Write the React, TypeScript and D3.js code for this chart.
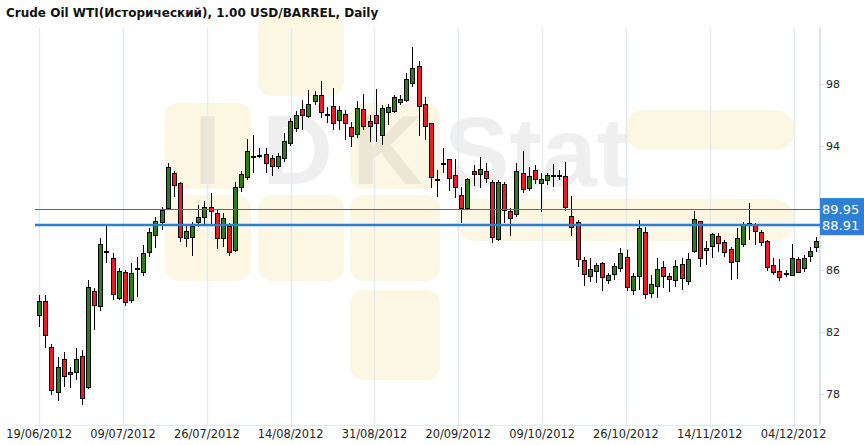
import React from "react";
import * as d3 from "d3";

const title = "Crude Oil WTI(Исторический), 1.00 USD/BARREL, Daily";
const dateLabels = ["19/06/2012", "09/07/2012", "26/07/2012", "14/08/2012", "31/08/2012", "20/09/2012", "09/10/2012", "26/10/2012", "14/11/2012", "04/12/2012"];
const dateLabelIndex = [0, 13.7, 27.4, 41.1, 54.8, 68.5, 82.2, 95.9, 109.6, 123.3];
const yTicks = [78, 82, 86, 94, 98];
const priceLines = [89.95, 88.91];

const opens = [
  83.10, 84.04, 81.07, 78.13, 80.26, 79.29, 79.46, 80.49, 78.49, 84.65,
  83.70, 87.25, 86.77, 84.19, 85.87, 84.08, 86.17, 85.87, 87.16, 88.26,
  89.14, 90.04, 92.26, 91.61, 88.06, 88.17, 89.10, 89.42, 90.10, 89.68,
  88.06, 88.88, 87.31, 91.35, 92.04, 93.39, 93.40, 93.48, 93.26, 92.73,
  93.23, 94.23, 95.20, 96.39, 95.97, 96.94, 97.31, 96.10, 96.62, 95.70,
  96.06, 95.26, 94.79, 96.41, 95.63, 96.02, 94.73, 96.23, 96.30, 96.84,
  97.00, 98.06, 99.18, 96.73, 95.48, 91.87, 92.94, 93.18, 92.15, 90.86,
  90.04, 92.41, 92.21, 92.43, 91.68, 88.00, 91.57, 89.85, 89.61, 92.26,
  91.29, 92.47, 91.61, 91.83, 92.15, 92.15, 92.08, 89.52, 89.14, 86.66,
  85.65, 85.97, 86.45, 85.37, 85.74, 86.13, 86.88, 84.73, 85.65, 88.49,
  84.52, 85.01, 86.19, 85.63, 85.37, 86.41, 85.31, 87.25, 89.18, 87.31,
  87.57, 88.21, 87.81, 87.35, 86.60, 87.68, 88.97, 88.97, 88.49, 87.89,
  86.34, 85.97, 85.81, 85.70, 86.73, 86.13, 86.94, 87.48,
];
const highs = [
  84.43, 84.43, 81.23, 80.43, 80.75, 79.74, 80.97, 80.86, 85.37, 84.88,
  88.06, 88.86, 87.10, 86.13, 86.02, 86.45, 86.88, 87.63, 88.71, 89.46,
  90.10, 92.94, 92.43, 91.70, 88.92, 89.14, 90.21, 90.49, 90.97, 89.94,
  89.68, 89.03, 91.72, 92.43, 94.45, 94.73, 93.89, 93.87, 93.44, 93.55,
  94.88, 95.81, 96.30, 97.00, 97.63, 97.59, 98.23, 96.55, 97.74, 96.60,
  96.34, 95.59, 96.92, 97.37, 96.02, 97.70, 96.66, 96.73, 97.31, 97.31,
  98.71, 100.43, 99.50, 97.20, 95.50, 92.47, 93.87, 93.18, 93.18, 91.39,
  91.95, 92.79, 93.33, 92.94, 91.83, 91.83, 91.72, 90.00, 92.94, 93.72,
  92.65, 92.79, 92.26, 92.26, 92.86, 92.50, 93.01, 90.79, 89.25, 86.88,
  86.77, 86.45, 86.55, 85.81, 86.45, 87.42, 87.31, 85.81, 89.25, 88.81,
  85.70, 86.77, 86.60, 85.85, 86.66, 86.77, 87.10, 89.83, 89.18, 87.91,
  88.43, 88.39, 87.95, 87.52, 88.71, 89.14, 90.36, 89.03, 88.60, 87.95,
  86.77, 86.73, 86.00, 87.70, 86.88, 86.99, 87.52, 88.17,
];
const lows = [
  82.36, 80.97, 77.95, 77.59, 78.49, 78.39, 78.92, 77.31, 78.32, 82.15,
  83.37, 86.45, 84.08, 84.08, 83.70, 83.89, 84.30, 85.63, 86.84, 87.42,
  88.60, 89.89, 90.75, 87.85, 87.48, 86.92, 88.81, 88.86, 88.92, 87.37,
  87.52, 86.92, 87.20, 91.07, 91.83, 92.26, 93.25, 92.26, 92.08, 92.52,
  93.01, 94.02, 94.94, 95.05, 95.81, 96.66, 95.81, 95.48, 95.05, 95.05,
  94.41, 93.97, 94.52, 95.05, 94.30, 94.30, 94.08, 95.37, 96.13, 96.66,
  96.88, 97.85, 94.66, 94.41, 91.29, 90.71, 92.26, 91.12, 90.65, 89.03,
  89.98, 91.44, 91.29, 91.65, 87.74, 87.90, 89.03, 88.21, 89.46, 91.01,
  91.10, 91.60, 89.78, 91.50, 91.39, 91.80, 89.85, 88.21, 86.19, 84.99,
  85.26, 85.16, 84.68, 85.12, 85.37, 85.91, 84.68, 84.41, 84.73, 84.13,
  84.19, 84.19, 84.84, 84.62, 84.94, 84.73, 85.05, 87.10, 86.19, 86.34,
  86.77, 87.20, 86.88, 85.37, 85.42, 87.48, 87.95, 87.63, 87.57, 85.95,
  85.70, 85.33, 85.55, 85.63, 85.81, 85.91, 86.55, 87.20,
];
const closes = [
  84.04, 81.81, 78.28, 79.78, 79.20, 79.42, 80.26, 77.74, 84.94, 83.76,
  87.68, 87.22, 84.45, 85.97, 83.97, 85.81, 86.14, 87.10, 88.45, 89.20,
  89.89, 92.65, 91.50, 88.13, 88.54, 88.86, 89.42, 90.10, 89.83, 88.06,
  89.39, 87.20, 91.39, 92.21, 93.70, 93.36, 93.43, 92.90, 92.75, 93.39,
  94.34, 95.63, 96.02, 96.02, 96.71, 97.31, 96.23, 96.06, 95.48, 96.34,
  95.48, 94.66, 96.45, 95.31, 95.33, 95.52, 96.45, 96.52, 97.16, 97.05,
  98.32, 99.03, 96.62, 95.30, 92.00, 91.84, 92.91, 91.94, 91.35, 90.00,
  91.89, 92.19, 92.52, 91.94, 88.13, 91.72, 89.89, 89.35, 92.41, 91.23,
  92.08, 91.87, 91.87, 92.15, 92.12, 92.12, 90.06, 88.77, 86.71, 85.74,
  86.06, 86.32, 85.55, 85.70, 86.28, 87.10, 84.90, 85.63, 88.75, 84.45,
  85.10, 86.06, 85.63, 85.42, 86.30, 85.48, 86.71, 89.29, 86.77, 87.42,
  88.32, 87.78, 87.16, 86.52, 88.06, 88.97, 89.03, 88.54, 87.85, 86.23,
  85.91, 85.55, 85.78, 86.77, 85.91, 86.77, 87.25, 87.91,
];

const W = 864;
const H = 445;
const plotTop = 28;
const plotBottom = 425;
const plotLeft = 35;
const plotRight = 820;
const green = "#2b7d16";
const red = "#ec1c24";
const gridColor = "#e1ebf4";
const font = "'DejaVu Sans', Verdana, sans-serif";

export default function App() {
  const x = d3.scaleLinear().domain([0, opens.length - 1]).range([39.2, 816.2]);
  const y = d3.scaleLinear().domain([78, 98]).range([394.3, 84.3]);
  const crisp = (v: number) => Math.round(v) + 0.5;

  return (
    <svg
      width={W}
      height={H}
      viewBox={`0 0 ${W} ${H}`}
      style={{ position: "absolute", left: 0, top: 0, background: "#fff" }}
    >
      <rect x={0} y={0} width={W} height={H} fill="#fff" />

      {/* watermark */}
      <g>
        <g fill="#fbf0c8" opacity={0.5}>
          <rect x={258} y={14} width={86} height={82} rx={14} />
          <rect x={165} y={103} width={86} height={86} rx={14} />
          <rect x={350} y={103} width={90} height={86} rx={14} />
          <rect x={165} y={195} width={86} height={86} rx={14} />
          <rect x={258} y={195} width={86} height={86} rx={14} />
          <rect x={350} y={195} width={90} height={86} rx={14} />
          <rect x={350} y={290} width={90} height={90} rx={14} />
          <rect x={455} y={199} width={340} height={42} rx={21} />
          <rect x={625} y={110} width={170} height={40} rx={20} />
        </g>
        <g fill="#000" opacity={0.06} fontFamily="'Liberation Sans', Arial, sans-serif" fontWeight="bold" fontSize={98}>
          <text x={194} y={184}>I</text>
          <text x={262} y={184}>D</text>
          <text x={352} y={184}>K</text>
          <text x={444} y={186}>Stat</text>
        </g>
      </g>

      {/* vertical grid lines */}
      {dateLabelIndex.map((d, k) => (
        <line
          key={"g" + k}
          x1={crisp(x(d))}
          x2={crisp(x(d))}
          y1={plotTop}
          y2={plotBottom + 2}
          stroke={gridColor}
          strokeWidth={1.5}
        />
      ))}
      {/* bottom and right axis */}
      <line x1={plotLeft} x2={plotRight} y1={plotBottom + 0.5} y2={plotBottom + 0.5} stroke={gridColor} strokeWidth={1} />
      <line x1={plotRight} x2={plotRight} y1={plotTop} y2={plotBottom} stroke="#d6e4f0" strokeWidth={2} />

      {/* y ticks */}
      {yTicks.map((t) => (
        <g key={"y" + t}>
          <line x1={plotRight} x2={plotRight + 3.5} y1={crisp(y(t))} y2={crisp(y(t))} stroke="#c9dbe9" strokeWidth={1} />
          <text x={826} y={y(t) + 4} fontFamily={font} fontSize={11} fill="#222">
            {t}
          </text>
        </g>
      ))}

      {/* x labels */}
      {dateLabels.map((lab, k) => (
        <text
          key={"x" + k}
          x={x(dateLabelIndex[k])}
          y={438}
          textAnchor="middle"
          fontFamily={font}
          fontSize={11.4}
          fill="#222"
        >
          {lab}
        </text>
      ))}

      {/* candles */}
      {opens.map((o, i) => {
        const c = closes[i];
        const cx = Math.round(x(i));
        const up = c >= o;
        const top = Math.round(y(Math.max(o, c))) + 0.5;
        const bot = Math.round(y(Math.min(o, c))) + 0.5;
        const h = Math.max(1, bot - top);
        return (
          <g key={"c" + i}>
            <line
              x1={cx + 0.5}
              x2={cx + 0.5}
              y1={Math.round(y(highs[i]))}
              y2={Math.round(y(lows[i]))}
              stroke="#000"
              strokeWidth={1}
            />
            <rect x={cx - 1.5} y={top} width={4} height={h} fill={up ? green : red} stroke="#000" strokeWidth={1} />
          </g>
        );
      })}

      {/* price lines */}
      <line x1={plotLeft} x2={plotRight} y1={crisp(y(priceLines[0]))} y2={crisp(y(priceLines[0]))} stroke="#3f6f9f" strokeWidth={1} />
      <line x1={plotLeft} x2={plotRight} y1={Math.round(y(priceLines[1]))} y2={Math.round(y(priceLines[1]))} stroke="#2f7fd0" strokeWidth={2.5} />

      {/* price labels */}
      <rect x={plotRight} y={y(priceLines[0]) - 11} width={W - plotRight} height={y(priceLines[1]) - y(priceLines[0]) + 21} fill="#2d80d4" />
      {priceLines.map((p, k) => (
        <text key={"p" + k} x={822} y={y(p) + 5} fontFamily={font} fontSize={13} fill="#fff">
          {p.toFixed(2)}
        </text>
      ))}

      {/* title */}
      <text x={6} y={17} fontFamily={font} fontWeight="bold" fontSize={12} fill="#111">
        {title}
      </text>
    </svg>
  );
}
